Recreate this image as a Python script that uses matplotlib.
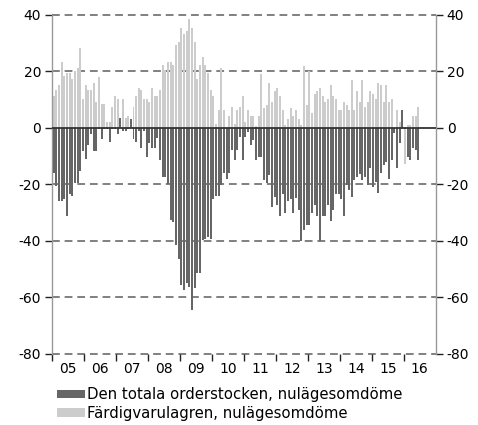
import matplotlib
matplotlib.use("Agg")
import matplotlib.pyplot as plt
from matplotlib.patches import Patch
import numpy as np

# Monthly survey balances, Jan 2005 - Jun 2016
years = ["05", "06", "07", "08", "09", "10", "11", "12", "13", "14", "15", "16"]

orderstock = [
    # 2005
    -16.2, -20.8, -26.1, -26.1, -25.3, -31.4, -23.4, -24.1, -19.5, -19.5, -15.3, -8.3,
    # 2006
    -11.2, -6.1, -2.2, -8.3, -8.3, -0.3, -4.1, -0.5, -0.5, -5.2, -0.5, -0.5,
    # 2007
    -2.2, 3.5, -1.1, -1.1, -0.3, 3.0, -4.1, -5.2, -1.1, -7.2, -1.0, -10.3,
    # 2008
    -5.3, -7.3, -7.3, -3.5, -11.5, -17.4, -17.4, -20.0, -32.5, -33.4, -41.6, -46.6,
    # 2009
    -55.7, -57.5, -54.9, -56.3, -64.6, -56.6, -51.6, -51.6, -39.8, -39.5, -38.6, -39.5,
    # 2010
    -25.4, -24.2, -24.2, -20.3, -16.2, -18.3, -16.2, -7.9, -11.5, -7.9, -3.2, -11.4,
    # 2011
    -3.2, -1.4, -6.1, -4.4, -11.4, -10.5, -10.5, -18.5, -19.4, -16.7, -28.2, -24.4,
    # 2012
    -27.3, -31.4, -23.4, -30.2, -26.1, -25.3, -30.2, -24.8, -29.1, -40.2, -36.1, -34.4,
    # 2013
    -34.4, -30.2, -27.3, -31.4, -40.2, -31.4, -31.4, -27.3, -33.2, -29.3, -23.4, -23.4,
    # 2014
    -25.3, -31.4, -20.2, -22.0, -24.4, -18.5, -17.3, -16.4, -18.5, -17.3, -20.2, -14.4,
    # 2015
    -21.1, -19.1, -23.2, -16.1, -13.2, -12.0, -18.2, -11.4, -2.0, -14.4, -5.3, 6.2,
    # 2016
    -0.6, -10.2, -11.4, -7.3, -7.9, -11.4,
]

lager = [
    # 2005
    11.2, 13.3, 15.1, 23.3, 18.3, 19.2, 19.2, 17.2, 20.0, 21.0, 28.2, 10.2,
    # 2006
    15.1, 13.3, 13.3, 16.0, 9.2, 18.0, 8.3, 8.3, 2.0, 2.0, 7.2, 11.2,
    # 2007
    10.2, 1.5, 10.2, 3.3, 4.1, 2.0, 7.2, 11.2, 14.2, 13.3, 10.2, 10.2,
    # 2008
    9.2, 14.2, 11.2, 11.2, 13.3, 22.2, 20.4, 23.3, 23.3, 22.2, 29.3, 30.2,
    # 2009
    35.2, 33.2, 34.1, 38.4, 35.2, 30.2, 17.2, 22.2, 25.1, 22.2, 19.2, 13.3,
    # 2010
    11.2, 1.2, 6.3, 21.3, 6.3, -1.0, 4.1, 7.2, 1.2, 6.3, 7.2, 11.2,
    # 2011
    2.1, 6.2, 4.1, 4.1, 0.5, 4.1, 18.9, 7.0, 8.0, 16.0, 9.2, 13.0,
    # 2012
    14.1, 11.2, 6.2, 1.0, 3.1, 7.1, 4.1, 6.2, 3.1, 1.0, 22.0, 8.0,
    # 2013
    20.0, 5.1, 12.1, 13.0, 14.1, 11.2, 9.2, 10.0, 15.0, 11.2, 10.0, 6.2,
    # 2014
    6.2, 9.2, 8.0, 6.2, 17.0, 6.2, 13.0, 9.2, 17.0, 7.2, 9.2, 13.0,
    # 2015
    12.1, 10.0, 16.0, 15.0, 9.2, 15.0, 9.2, 10.0, -1.4, 6.2, 2.1, 1.0,
    # 2016
    -13.0, 1.0, 1.0, 4.1, 4.1, 7.2,
]

LABEL_ORDER = "Den totala orderstocken, nulägesomdöme"
LABEL_LAGER = "Färdigvarulagren, nulägesomdöme"

DARK = "#666666"
LIGHT = "#cccccc"
GRID = "#808080"

plt.rcParams["font.family"] = "DejaVu Sans"
plt.rcParams["font.size"] = 10
plt.rcParams["axes.unicode_minus"] = False

fig = plt.figure(figsize=(4.78, 4.25), dpi=100)
ax = fig.add_axes([0.1094, 0.1678, 0.8021, 0.7976])

x = np.arange(len(orderstock)) + 0.5
ax.bar(x, lager, width=0.75, color=LIGHT, zorder=2)
ax.bar(x, orderstock, width=0.75, color=DARK, zorder=3)

ax.set_xlim(0, 144)
ax.set_ylim(-80, 40)

# dashed grid lines incl. top and bottom edges
for yv in [40, 20, -20, -40, -60, -80]:
    ax.axhline(yv, color=GRID, lw=1.4, linestyle=(0, (4, 2.5)), zorder=1, clip_on=False)
ax.axhline(0, color="#333333", lw=1.3, zorder=4)

for side in ["top", "bottom"]:
    ax.spines[side].set_visible(False)
for side in ["left", "right"]:
    ax.spines[side].set_color("#999999")
    ax.spines[side].set_linewidth(1.0)

ax.set_yticks([40, 20, 0, -20, -40, -60, -80])
ax.tick_params(axis="y", left=True, right=True, labelleft=True, labelright=True,
               direction="out", length=5, width=1, color="#222222", pad=3,
               labelsize=10)

ax.set_xticks(np.arange(0, 144, 12))
ax.set_xticklabels([])
ax.set_xticks(np.arange(6, 144, 12), minor=True)
ax.set_xticklabels(years, minor=True)
ax.tick_params(axis="x", which="major", direction="out", length=5, width=1, color="#222222")
ax.tick_params(axis="x", which="minor", length=0, pad=6, labelsize=10)

handles = [Patch(facecolor=DARK, label=LABEL_ORDER),
           Patch(facecolor=LIGHT, label=LABEL_LAGER)]
fig.legend(handles=handles, loc="upper left", bbox_to_anchor=(0.1186, 0.089),
           frameon=False, fontsize=10.7, handlelength=1.88, handleheight=0.5,
           handletextpad=0.15, labelspacing=0.25, borderaxespad=0, borderpad=0)

fig.savefig("out.png", dpi=100)
